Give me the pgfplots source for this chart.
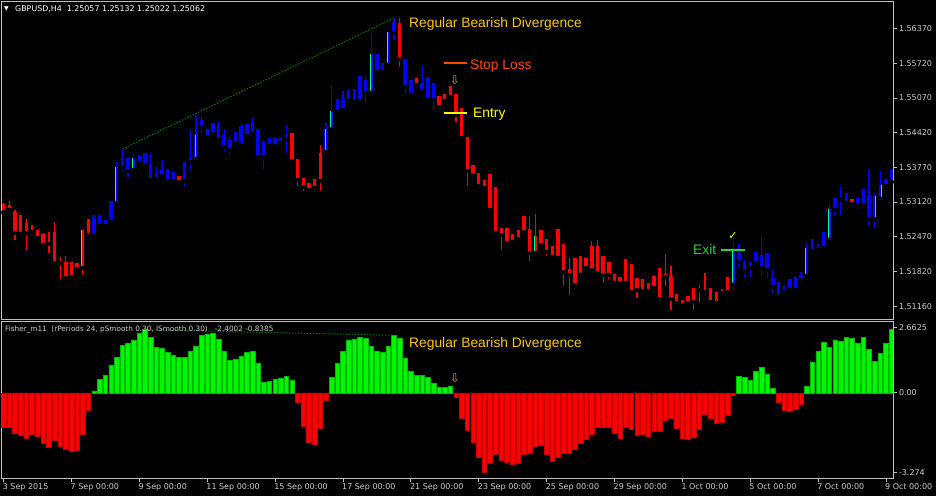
\documentclass[border=0pt]{standalone}
\usepackage{pgfplots}
\pgfplotsset{compat=1.18}
\usepackage{pgfplotstable}
\usepackage{fontspec}
\setmainfont{DejaVu Sans}
\newfontfamily\lib{Liberation Sans}
\definecolor{framec}{RGB}{192,192,192}
\definecolor{labc}{RGB}{205,205,205}
\definecolor{cblue}{RGB}{0,0,255}
\definecolor{cred}{RGB}{255,0,0}
\definecolor{accg}{RGB}{0,255,140}
\definecolor{hgreen}{RGB}{0,245,0}
\definecolor{hgreenE}{RGB}{0,185,0}
\definecolor{hred}{RGB}{255,0,0}
\definecolor{hredE}{RGB}{200,0,0}
\definecolor{divg}{RGB}{0,120,0}
\definecolor{gold}{RGB}{255,200,0}
\definecolor{slc}{RGB}{255,72,0}
\definecolor{entc}{RGB}{255,255,0}
\definecolor{exitc}{RGB}{50,205,50}
\definecolor{arrc}{RGB}{205,170,0}

% red candles: x low high bodylow bodyhigh
\pgfplotstableread{
x lo hi blo bhi
0 1.52914 1.53102 1.52933 1.53083
1 1.52895 1.53139 1.52970 1.53064
2 1.52370 1.52970 1.52539 1.52933
3 1.52520 1.52877 1.52520 1.52877
4 1.52183 1.52802 1.52539 1.52727
5 1.52520 1.52689 1.52558 1.52577
6 1.52445 1.52595 1.52445 1.52595
7 1.52239 1.52539 1.52314 1.52520
8 1.52127 1.52558 1.52333 1.52352
9 1.51977 1.52745 1.51977 1.52558
10 1.51639 1.52089 1.51977 1.51995
11 1.51620 1.52108 1.51695 1.51995
12 1.51714 1.51995 1.51714 1.51995
13 1.51864 1.51977 1.51864 1.51977
14 1.51714 1.52595 1.51883 1.52595
15 1.52445 1.52802 1.52502 1.52802
31 1.53495 1.53608 1.53495 1.53608
51 1.53889 1.54414 1.53889 1.54414
52 1.53383 1.53927 1.53533 1.53927
53 1.53289 1.53570 1.53402 1.53570
54 1.53345 1.53477 1.53345 1.53477
55 1.53383 1.53552 1.53383 1.53552
56 1.53289 1.54189 1.53514 1.54039
70 1.55614 1.56570 1.55802 1.56477
73 1.55314 1.55445 1.55314 1.55445
77 1.54902 1.55108 1.54902 1.55108
78 1.55014 1.55145 1.55014 1.55145
79 1.55089 1.55295 1.55089 1.55295
80 1.54583 1.55145 1.54752 1.55145
81 1.54264 1.54883 1.54320 1.54883
82 1.53383 1.54339 1.53702 1.54339
83 1.53552 1.53814 1.53627 1.53814
84 1.53420 1.53664 1.53420 1.53664
85 1.53383 1.53533 1.53383 1.53533
86 1.52970 1.53645 1.52970 1.53645
87 1.52520 1.53402 1.52539 1.53402
88 1.52183 1.52633 1.52502 1.52633
89 1.52352 1.52633 1.52352 1.52633
90 1.52370 1.52520 1.52370 1.52520
91 1.52427 1.52595 1.52427 1.52595
92 1.52558 1.52858 1.52558 1.52858
93 1.51977 1.52858 1.52164 1.52614
94 1.52108 1.52895 1.52164 1.52483
95 1.52314 1.52595 1.52314 1.52595
96 1.52070 1.52427 1.52183 1.52427
97 1.52089 1.52295 1.52089 1.52295
98 1.52070 1.52614 1.52070 1.52614
99 1.51508 1.52333 1.51808 1.52333
100 1.51339 1.52070 1.51753 1.51864
101 1.51564 1.52070 1.51564 1.52070
102 1.51753 1.52108 1.51753 1.52108
103 1.51883 1.52070 1.51883 1.52070
104 1.51789 1.52389 1.51845 1.52295
105 1.51789 1.52408 1.51789 1.52295
106 1.51564 1.52108 1.51753 1.52108
107 1.51639 1.51995 1.51753 1.51995
108 1.51602 1.51770 1.51602 1.51770
109 1.51545 1.51714 1.51602 1.51714
110 1.51602 1.52052 1.51602 1.52052
111 1.51377 1.51958 1.51433 1.51958
112 1.51283 1.51695 1.51470 1.51695
113 1.51452 1.51677 1.51452 1.51677
114 1.51452 1.51602 1.51452 1.51602
115 1.51508 1.51733 1.51508 1.51733
116 1.51302 1.51883 1.51302 1.51883
117 1.51508 1.52145 1.51714 1.51770
118 1.51058 1.51920 1.51302 1.51733
119 1.51152 1.51395 1.51227 1.51395
120 1.51152 1.51283 1.51189 1.51283
121 1.51227 1.51358 1.51227 1.51358
122 1.51058 1.51508 1.51245 1.51508
123 1.51189 1.51564 1.51470 1.51489
124 1.51433 1.51789 1.51433 1.51470
125 1.51245 1.51508 1.51245 1.51508
126 1.51227 1.51433 1.51227 1.51433
127 1.51358 1.51489 1.51414 1.51452
128 1.51358 1.51714 1.51433 1.51714
150 1.53083 1.53177 1.53083 1.53177
}\redc

% blue candles
\pgfplotstableread{
x lo hi blo bhi
16 1.52502 1.52877 1.52502 1.52839
17 1.52670 1.52877 1.52670 1.52877
18 1.52670 1.52783 1.52670 1.52783
19 1.52745 1.53139 1.52745 1.53139
20 1.53102 1.53870 1.53102 1.53777
21 1.53664 1.54114 1.53758 1.53945
22 1.53552 1.53945 1.53702 1.53945
23 1.53664 1.54020 1.53720 1.53945
24 1.53852 1.54002 1.53852 1.54002
25 1.53795 1.54039 1.53795 1.54039
26 1.53495 1.54020 1.53533 1.53833
27 1.53477 1.53777 1.53552 1.53664
28 1.53552 1.53908 1.53608 1.53720
29 1.53514 1.53739 1.53514 1.53739
30 1.53514 1.53683 1.53514 1.53683
32 1.53383 1.53870 1.53514 1.53870
33 1.53683 1.54470 1.53870 1.53945
34 1.53927 1.54752 1.53927 1.54377
35 1.54377 1.54733 1.54508 1.54658
36 1.54339 1.54489 1.54339 1.54489
37 1.54339 1.54602 1.54395 1.54602
38 1.54227 1.54620 1.54283 1.54564
39 1.54039 1.54489 1.54152 1.54377
40 1.53983 1.54339 1.54095 1.54283
41 1.54227 1.54433 1.54227 1.54433
42 1.54189 1.54583 1.54189 1.54545
43 1.54358 1.54583 1.54358 1.54583
44 1.54358 1.54695 1.54395 1.54620
45 1.53964 1.54489 1.53964 1.54489
46 1.53702 1.54264 1.53964 1.54264
47 1.54170 1.54320 1.54170 1.54320
48 1.54170 1.54320 1.54170 1.54320
49 1.54227 1.54320 1.54227 1.54320
50 1.54002 1.54564 1.54302 1.54377
57 1.54002 1.54602 1.54058 1.54489
58 1.54433 1.55295 1.54489 1.54827
59 1.54808 1.55052 1.54808 1.55052
60 1.54845 1.55202 1.54845 1.55052
61 1.55014 1.55220 1.55014 1.55220
62 1.54995 1.55239 1.54995 1.55239
63 1.55014 1.55483 1.55014 1.55483
64 1.54958 1.55483 1.55164 1.55408
65 1.55127 1.56289 1.55164 1.55895
66 1.55558 1.55895 1.55558 1.55895
67 1.55558 1.55727 1.55558 1.55727
68 1.55633 1.56308 1.55689 1.56308
69 1.56120 1.56570 1.56289 1.56477
71 1.55127 1.55802 1.55277 1.55802
72 1.55127 1.55408 1.55127 1.55408
74 1.55202 1.55670 1.55202 1.55352
75 1.55033 1.55464 1.55033 1.55464
76 1.54789 1.55352 1.55033 1.55352
129 1.51414 1.52370 1.51564 1.52220
130 1.51864 1.52333 1.51995 1.52164
131 1.51677 1.52033 1.51808 1.51995
132 1.51677 1.51995 1.51883 1.51995
133 1.51977 1.52183 1.51977 1.52183
134 1.51695 1.52445 1.51883 1.52127
135 1.51658 1.52164 1.51845 1.52164
136 1.51377 1.51845 1.51527 1.51695
137 1.51358 1.51620 1.51358 1.51620
138 1.51377 1.51545 1.51433 1.51470
139 1.51395 1.51677 1.51470 1.51677
140 1.51377 1.51714 1.51470 1.51714
141 1.51602 1.51808 1.51658 1.51752
142 1.51714 1.52352 1.51733 1.52258
143 1.52202 1.52427 1.52202 1.52427
144 1.52164 1.52333 1.52239 1.52277
145 1.52258 1.52558 1.52258 1.52558
146 1.52389 1.53102 1.52408 1.52989
147 1.52839 1.53195 1.52970 1.53195
148 1.52839 1.53402 1.53158 1.53195
149 1.53102 1.53289 1.53102 1.53289
151 1.52952 1.53195 1.53064 1.53195
152 1.53045 1.53364 1.53045 1.53364
153 1.52652 1.53720 1.52802 1.53252
154 1.52595 1.53289 1.52802 1.53233
155 1.53177 1.53702 1.53177 1.53439
156 1.53420 1.53552 1.53420 1.53552
157 1.53495 1.53739 1.53495 1.53739
}\bluec

% bullish body edges (green strips seen inside some candles)
\pgfplotstableread{
x blo bhi
13.85 1.51883 1.52595
19.85 1.53102 1.53777
22.85 1.53720 1.53945
33.85 1.53927 1.54377
56.85 1.54058 1.54489
57.85 1.54489 1.54827
64.85 1.55164 1.55895
67.85 1.55689 1.56308
93.85 1.52164 1.52483
128.85 1.51564 1.52220
141.85 1.51733 1.52258
145.85 1.52408 1.52989
154.15 1.52802 1.53233
155.15 1.53177 1.53439
}\accc

% Fisher histogram
\pgfplotstableread{
i v
0 -1.42
1 -1.42
2 -1.65
3 -1.74
4 -1.85
5 -1.69
6 -1.78
7 -2.08
8 -2.24
9 -1.93
10 -2.17
11 -2.30
12 -2.38
13 -2.34
14 -1.69
15 -0.70
16 0.08
17 0.56
18 0.72
19 1.13
20 1.46
21 1.95
22 2.01
23 2.16
24 2.45
25 2.58
26 2.26
27 1.87
28 1.82
29 1.65
30 1.54
31 1.44
32 1.45
33 1.71
34 1.89
35 2.34
36 2.38
37 2.45
38 2.20
39 1.71
40 1.34
41 1.38
42 1.49
43 1.64
44 1.69
45 1.22
46 0.45
47 0.48
48 0.56
49 0.59
50 0.68
51 0.52
52 -0.40
53 -1.35
54 -2.01
55 -2.09
56 -1.46
57 -0.31
58 0.62
59 1.20
60 1.69
61 2.16
62 2.20
63 2.28
64 2.24
65 1.89
66 1.71
67 1.64
68 1.89
69 2.35
70 2.23
71 1.41
72 0.89
73 0.70
74 0.70
75 0.64
76 0.38
77 0.22
78 0.21
79 0.27
80 -0.18
81 -1.03
82 -1.52
83 -2.01
84 -2.62
85 -3.24
86 -2.88
87 -2.50
88 -2.75
89 -2.86
90 -2.92
91 -2.87
92 -2.50
93 -2.46
94 -2.20
95 -2.15
96 -2.50
97 -2.79
98 -2.62
99 -2.46
100 -2.46
101 -2.30
102 -2.08
103 -1.89
104 -1.68
105 -1.39
106 -1.39
107 -1.42
108 -1.64
109 -1.87
110 -1.39
111 -1.48
112 -1.72
113 -1.68
114 -1.76
115 -1.59
116 -1.59
117 -1.11
118 -1.03
119 -1.43
120 -1.87
121 -1.89
122 -1.83
123 -1.50
124 -0.87
125 -1.03
126 -1.23
127 -1.19
128 -0.90
129 -0.12
130 0.68
131 0.64
132 0.52
133 0.90
134 1.05
135 0.77
136 0.19
137 -0.40
138 -0.70
139 -0.74
140 -0.67
141 -0.45
142 0.27
143 1.23
144 1.69
145 2.08
146 1.87
147 2.16
148 2.12
149 2.28
150 2.24
151 2.04
152 2.28
153 1.80
154 1.27
155 1.61
156 2.01
157 2.60
}\fisher

\pgfplotsset{
  mt/.style={
    scale only axis, width=892pt,
    xmin=-0.407, xmax=157.3,
    axis line style={framec, line width=0.8pt},
    tick style={framec, line width=0.8pt},
    tick align=outside, major tick length=4pt,
    tick label style={font=\fontsize{8}{9}\selectfont, text=labc},
    yticklabel style={anchor=west, inner sep=0pt, xshift=1.5pt},
    ytick pos=right, yticklabel pos=right,
  },
  wick/.style={only marks, mark=none, forget plot,
    error bars/.cd, y dir=plus, y explicit, error mark=none,
    error bar style={line width=1.3pt, #1}},
  body/.style={only marks, mark=none, forget plot,
    error bars/.cd, y dir=plus, y explicit, error mark=none,
    error bar style={line width=3.4pt, #1}},
}

\begin{document}
\begin{tikzpicture}
\fill[black] (0pt,0pt) rectangle (936pt,496pt);
\useasboundingbox (0pt,0pt) rectangle (936pt,496pt);

% ---------- price pane ----------
\begin{axis}[mt, at={(1.3pt,177pt)}, anchor=south west, height=318pt,
  ymin=1.50927, ymax=1.56889, xtick=\empty,
  ytick={1.51160,1.51820,1.52470,1.53120,1.53770,1.54420,1.55070,1.55720,1.56370},
  yticklabels={1.51160,1.51820,1.52470,1.53120,1.53770,1.54420,1.55070,1.55720,1.56370}]
\draw[divg, line width=1pt, dash pattern=on 1.5pt off 1.5pt] (axis cs:21,1.54114) -- (axis cs:69,1.56570);
\addplot[wick=cred] table[x=x, y=lo, y error expr=\thisrow{hi}-\thisrow{lo}] {\redc};
\addplot[body=cred] table[x=x, y=blo, y error expr=\thisrow{bhi}-\thisrow{blo}] {\redc};
\addplot[wick=cblue] table[x=x, y=lo, y error expr=\thisrow{hi}-\thisrow{lo}] {\bluec};
\addplot[body=cblue] table[x=x, y=blo, y error expr=\thisrow{bhi}-\thisrow{blo}] {\bluec};
\addplot[only marks, mark=none, forget plot, error bars/.cd, y dir=plus, y explicit, error mark=none,
  error bar style={line width=1pt, accg}] table[x=x, y=blo, y error expr=\thisrow{bhi}-\thisrow{blo}] {\accc};
\end{axis}

% ---------- Fisher pane ----------
\begin{axis}[mt, at={(1.3pt,18pt)}, anchor=south west, height=157pt,
  ymin=-3.484, ymax=2.936,
  ytick={-3.274,0,2.6625}, yticklabels={-3.274,0.00,2.6625},
  xtick={0,12,24,36,48,60,72,84,96,108,120,132,144,156},
  xticklabels={3 Sep 2015,7 Sep 00:00,9 Sep 00:00,11 Sep 00:00,15 Sep 00:00,17 Sep 00:00,21 Sep 00:00,23 Sep 00:00,25 Sep 00:00,29 Sep 00:00,1 Oct 00:00,5 Oct 00:00,7 Oct 00:00,9 Oct 00:00},
  xtick pos=left,
  xticklabel style={anchor=north west, inner sep=0pt, xshift=-1pt, yshift=-1.5pt}]
\addplot[ybar, bar width=4.6pt, bar shift=0pt, fill=hgreen, draw=hgreenE, line width=0.5pt,
  restrict y to domain=0:10] table[x=i, y=v] {\fisher};
\addplot[ybar, bar width=4.6pt, bar shift=0pt, fill=hred, draw=hredE, line width=0.5pt,
  restrict y to domain=-10:0] table[x=i, y=v] {\fisher};
\draw[divg, line width=1pt, dash pattern=on 1.5pt off 1.5pt] (axis cs:25,2.58) -- (axis cs:69,2.35);
\end{axis}

% ---------- texts and marks ----------
\node[anchor=base west, inner sep=0pt, text=white, font=\fontsize{6}{7}\selectfont] at (4pt,485pt) {▼};
\node[anchor=base west, inner sep=0pt, text=white, font=\fontsize{7.9}{9}\selectfont] at (15pt,484.3pt)
  {GBPUSD,H4\ \ 1.25057 1.25132 1.25022 1.25062};
\node[anchor=base west, inner sep=0pt, text=labc, font=\fontsize{7.3}{9}\selectfont] at (5pt,164.3pt)
  {Fisher\_m11\ \ (rPeriods 24, pSmooth 0.30, lSmooth 0.30)\ \ \ -2.4002 -0.8385};

\node[anchor=base west, inner sep=0pt, text=gold, font=\lib\fontsize{13.8}{15}\selectfont] at (409pt,468.3pt) {Regular Bearish Divergence};
\node[anchor=base west, inner sep=0pt, text=gold, font=\lib\fontsize{13.8}{15}\selectfont] at (409pt,148.7pt) {Regular Bearish Divergence};

\draw[slc, line width=2pt] (444pt,432.7pt) -- (467pt,432.7pt);
\node[anchor=base west, inner sep=0pt, text=slc, font=\lib\fontsize{13.8}{15}\selectfont] at (470pt,426.7pt) {Stop Loss};

\draw[entc, line width=2pt] (444pt,383.3pt) -- (467pt,383.3pt);
\node[anchor=base west, inner sep=0pt, text=entc, font=\lib\fontsize{13.8}{15}\selectfont] at (473pt,378.3pt) {Entry};

\draw[exitc, line width=2pt] (720.7pt,246.3pt) -- (745pt,246.3pt);
\node[anchor=base west, inner sep=0pt, text=exitc, font=\lib\fontsize{13.8}{15}\selectfont] at (693pt,241.7pt) {Exit};

\node[inner sep=0pt, text=entc, font=\fontsize{11}{12}\selectfont] at (733pt,260pt) {✓};
\node[inner sep=0pt, text=arrc, font=\fontsize{12}{13}\selectfont] at (455pt,416pt) {⇩};
\node[inner sep=0pt, text=arrc, font=\fontsize{12}{13}\selectfont] at (455pt,118pt) {⇩};
\end{tikzpicture}
\end{document}
